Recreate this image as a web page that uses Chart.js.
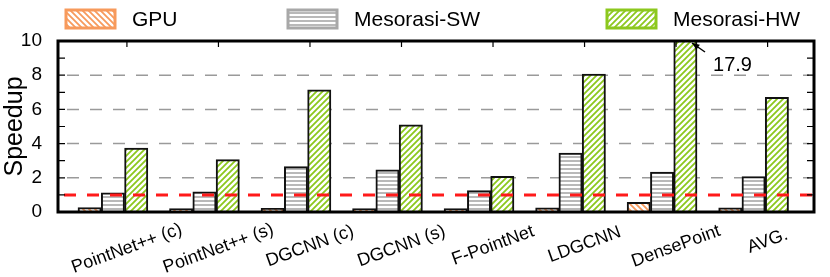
<!DOCTYPE html>
<html>
<head>
<meta charset="utf-8">
<script src="https://cdn.jsdelivr.net/npm/chart.js@4.4.0/dist/chart.umd.min.js"></script>
<style>
  html, body { margin: 0; padding: 0; background: #fff; }
</style>
</head>
<body>
<canvas id="chart" width="830" height="277"></canvas>
<script>
// data
const categories = ["PointNet++ (c)", "PointNet++ (s)", "DGCNN (c)", "DGCNN (s)", "F-PointNet", "LDGCNN", "DensePoint", "AVG."];
const seriesNames = ["GPU", "Mesorasi-SW", "Mesorasi-HW"];
const gpu = [0.26, 0.2, 0.22, 0.2, 0.2, 0.25, 0.57, 0.25];
const mesorasiSW = [1.12, 1.18, 2.65, 2.46, 1.25, 3.45, 2.34, 2.07];
const mesorasiHW = [3.74, 3.06, 7.14, 5.1, 2.09, 8.06, 17.9, 6.7];
const yTicks = [0, 2, 4, 6, 8, 10];
const baseline = 1;
const clippedLabel = "17.9";

const FONT = '"Liberation Sans", Arial, Helvetica, sans-serif';
Chart.defaults.font.family = FONT;
Chart.defaults.color = "#000";

// hatch fills
function hatch(kind, color) {
  const c = document.createElement("canvas");
  const s = kind === "h" ? 4 : 6;
  c.width = s; c.height = s;
  const g = c.getContext("2d");
  g.fillStyle = "#fff";
  g.fillRect(0, 0, s, s);
  g.strokeStyle = color;
  g.lineWidth = kind === "h" ? 1.6 : 1.8;
  g.beginPath();
  if (kind === "h") {
    g.moveTo(0, 1); g.lineTo(s, 1);
  } else if (kind === "/") {
    g.moveTo(-1, s + 1); g.lineTo(s + 1, -1);
    g.moveTo(-1, 1); g.lineTo(1, -1);
    g.moveTo(s - 1, s + 1); g.lineTo(s + 1, s - 1);
  } else {
    g.moveTo(-1, -1); g.lineTo(s + 1, s + 1);
    g.moveTo(s - 1, -1); g.lineTo(s + 1, 1);
    g.moveTo(-1, s - 1); g.lineTo(1, s + 1);
  }
  g.stroke();
  return g.createPattern(c, "repeat");
}

const seriesColors = ["#f79a5c", "#a8a8a8", "#8cc81e"];
const fills = [hatch("\\", seriesColors[0]), hatch("h", seriesColors[1]), hatch("/", seriesColors[2])];
const seriesData = [gpu, mesorasiSW, mesorasiHW];

const tickShift = 0.153; // gnuplot xtics sit a little right of the group centres

const decor = {
  id: "decor",
  beforeDatasetsDraw(chart) {
    const { ctx, chartArea: a, scales: { y } } = chart;
    ctx.save();
    ctx.strokeStyle = "#9a9a9a";
    ctx.lineWidth = 1.5;
    ctx.setLineDash([12, 11]);
    yTicks.slice(1, -1).forEach(v => {
      const py = y.getPixelForValue(v);
      ctx.beginPath();
      ctx.moveTo(a.left + 9, py);
      ctx.lineTo(a.right - 5, py);
      ctx.stroke();
    });
    ctx.restore();
  },
  afterDraw(chart) {
    const { ctx, chartArea: a, scales: { x, y } } = chart;
    ctx.save();

    // reference line at speedup 1
    ctx.strokeStyle = "#ff1a1a";
    ctx.lineWidth = 3;
    ctx.setLineDash([12, 11]);
    const by = y.getPixelForValue(baseline);
    ctx.beginPath();
    ctx.moveTo(a.left + 6, by);
    ctx.lineTo(a.right, by);
    ctx.stroke();
    ctx.setLineDash([]);

    // frame
    ctx.strokeStyle = "#000";
    ctx.lineWidth = 3;
    ctx.strokeRect(a.left, a.top, a.right - a.left, a.bottom - a.top);

    // inner y ticks, left and right
    ctx.lineWidth = 1.2;
    for (let v = 1; v < 10; v++) {
      const py = y.getPixelForValue(v);
      ctx.beginPath();
      ctx.moveTo(a.left, py); ctx.lineTo(a.left + 7, py);
      ctx.moveTo(a.right, py); ctx.lineTo(a.right - 7, py);
      ctx.stroke();
    }
    // top x ticks
    categories.forEach((_, i) => {
      const px = x.getPixelForValue(i + tickShift);
      ctx.beginPath();
      ctx.moveTo(px, a.top); ctx.lineTo(px, a.top + 6);
      ctx.stroke();
    });

    // rotated category labels
    ctx.fillStyle = "#000";
    ctx.font = "18px " + FONT;
    ctx.textAlign = "center";
    ctx.textBaseline = "middle";
    categories.forEach((lab, i) => {
      const px = x.getPixelForValue(i + tickShift);
      const w = ctx.measureText(lab).width;
      ctx.save();
      ctx.translate(px, a.bottom + 25 + 0.1 * w);
      ctx.rotate(-20 * Math.PI / 180);
      ctx.fillText(lab, 0, 0);
      ctx.restore();
    });

    // arrow and value for the clipped bar
    const bar = chart.getDatasetMeta(2).data[6];
    const tipX = bar.x + bar.width / 2 - 5, tipY = a.top + 2;
    const endX = tipX + 13, endY = tipY + 9;
    ctx.lineWidth = 1.5;
    ctx.beginPath();
    ctx.moveTo(endX, endY); ctx.lineTo(tipX, tipY);
    ctx.stroke();
    const ang = Math.atan2(tipY - endY, tipX - endX);
    ctx.beginPath();
    ctx.moveTo(tipX, tipY);
    ctx.lineTo(tipX - 8 * Math.cos(ang - 0.4), tipY - 8 * Math.sin(ang - 0.4));
    ctx.lineTo(tipX - 8 * Math.cos(ang + 0.4), tipY - 8 * Math.sin(ang + 0.4));
    ctx.closePath();
    ctx.fill();
    ctx.font = "20px " + FONT;
    ctx.textAlign = "left";
    ctx.fillText(clippedLabel, endX + 8, endY + 13);

    // legend
    const boxX = [66, 288, 607];
    ctx.font = "21px " + FONT;
    ctx.textBaseline = "middle";
    seriesNames.forEach((name, i) => {
      ctx.fillStyle = fills[i];
      ctx.fillRect(boxX[i], 10, 49, 18);
      ctx.strokeStyle = seriesColors[i];
      ctx.lineWidth = 3;
      ctx.strokeRect(boxX[i], 10, 49, 18);
      ctx.fillStyle = "#000";
      ctx.fillText(name, boxX[i] + 66, 20);
    });

    ctx.restore();
  }
};

new Chart(document.getElementById("chart"), {
  type: "bar",
  data: {
    datasets: seriesNames.map((name, k) => ({
      label: name,
      data: seriesData[k].map((v, i) => ({ x: i, y: v })),
      backgroundColor: fills[k],
      borderColor: "#111",
      borderWidth: 2,
      barThickness: 23.3
    }))
  },
  options: {
    responsive: false,
    animation: false,
    devicePixelRatio: 1,
    layout: { padding: { top: 41, right: 16, left: 0, bottom: 0 } },
    plugins: { legend: { display: false }, tooltip: { enabled: false } },
    scales: {
      x: {
        type: "linear",
        min: -0.6,
        max: 7.66,
        offset: false,
        grid: { display: false },
        border: { display: false },
        ticks: { display: false },
        afterFit(s) { s.height = 65; }
      },
      y: {
        min: 0,
        max: 10,
        grid: { display: false },
        border: { display: false },
        ticks: { stepSize: 2, font: { size: 19 }, padding: 8 },
        title: { display: true, text: "Speedup", font: { size: 25 }, padding: { top: 0, bottom: 0 } },
        afterFit(s) { s.width = 58; }
      }
    }
  },
  plugins: [decor]
});
</script>
</body>
</html>
